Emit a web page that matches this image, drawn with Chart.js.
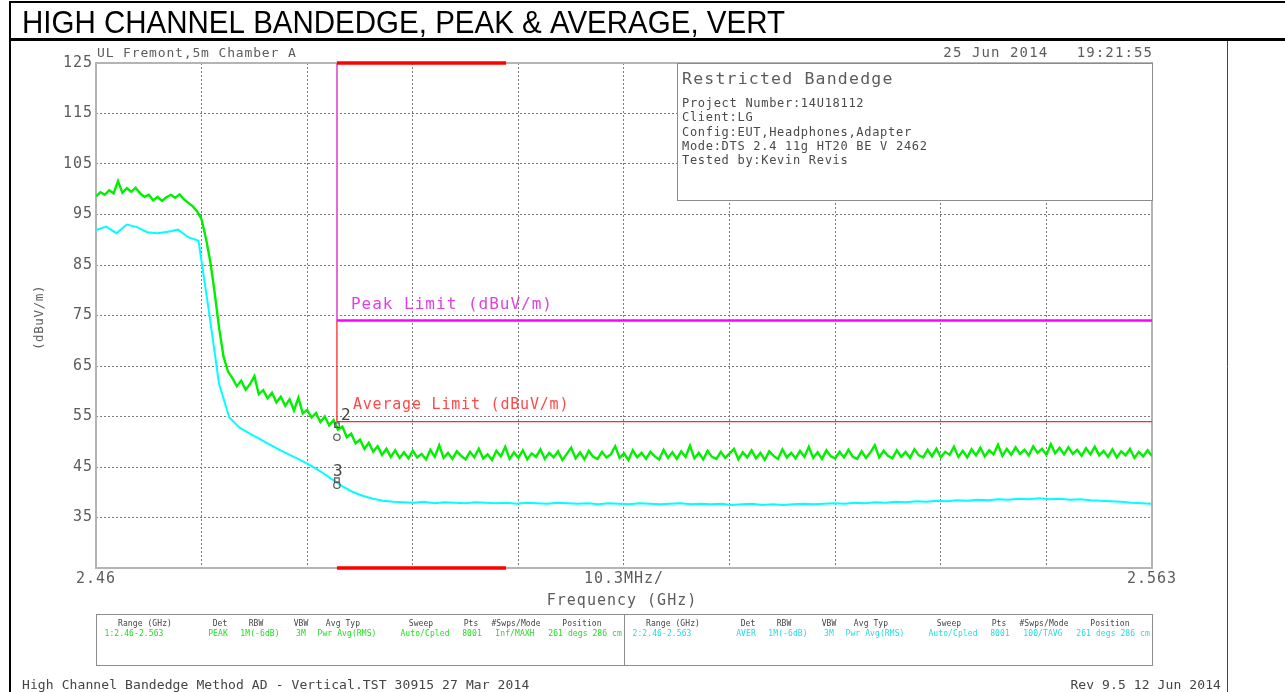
<!DOCTYPE html>
<html><head><meta charset="utf-8">
<script src="https://cdn.jsdelivr.net/npm/chart.js@4.4.1/dist/chart.umd.min.js"></script>
<style>html,body{margin:0;padding:0;background:#fff;overflow:hidden}canvas{display:block}</style>
</head><body>
<canvas id="c" width="1285" height="692"></canvas>
<script>
// ---------------- DATA ----------------
const chartTitle = 'HIGH CHANNEL BANDEDGE, PEAK & AVERAGE, VERT';
const siteLabel = 'UL Fremont,5m Chamber A';
const dateLabel = '25 Jun 2014   19:21:55';
const sweepStartGHz = 2.46;
const sweepStopGHz = 2.563;
const xDivisions = 10;
const xTickLabels = ['2.46','','','','','10.3MHz/','','','','','2.563'];
const xAxisTitle = 'Frequency (GHz)';
const yAxisTitle = '(dBuV/m)';
const yMin = 25, yMax = 125;
const yTickValues = [35,45,55,65,75,85,95,105,115,125];
const restrictedBandGHz = [2.4835, 2.5];
const peakLimit = 74;
const averageLimit = 54;
const peakLimitLabel = 'Peak Limit (dBuV/m)';
const averageLimitLabel = 'Average Limit (dBuV/m)';

// Trace 1: PEAK (MAXH), evenly spaced sweep points from 2.46 to 2.563 GHz
const peakTrace = [
 98.6, 99.4, 98.9, 99.8, 99.2, 101.6, 99.3, 100.2, 99.5, 100.3,
 99.2, 98.5, 98.9, 97.8, 98.5, 97.7, 98.4, 98.9, 98.3, 99.0,
 98.0, 97.3, 96.6, 95.6, 94.0, 90.2, 85.6, 79.3, 72.4, 66.8,
 63.9, 62.6, 61.0, 62.1, 60.3, 61.4, 63.0, 59.4, 60.2, 58.6,
 59.7, 57.8, 58.9, 57.1, 58.4, 56.2, 58.7, 55.6, 56.3, 54.8,
 55.7, 53.9, 55.0, 53.2, 54.3, 52.4, 53.0, 50.9, 51.6, 49.7,
 50.4, 48.6, 49.8, 48.0, 49.1, 47.4, 48.6, 47.0, 48.3, 46.8,
 47.9, 46.7, 48.2, 46.9, 47.6, 46.5, 48.4, 47.0, 49.3, 46.8,
 47.8, 46.6, 48.1, 47.2, 46.5, 48.0, 46.9, 48.6, 46.7, 47.5,
 46.4, 48.2, 47.1, 49.0, 46.6, 47.9, 46.8, 48.3, 46.5, 47.7,
 47.0, 48.5, 46.6, 47.8, 46.9, 48.1, 46.4, 47.6, 48.8, 46.7,
 47.9, 46.5, 48.2, 47.0, 46.6, 48.0, 46.9, 47.5, 49.1, 46.8,
 47.7, 46.4, 48.3, 46.9, 47.8, 46.6, 48.0, 47.1, 46.5, 48.4,
 46.8, 47.9, 46.6, 48.1, 47.0, 49.2, 46.7, 47.8, 46.5, 48.2,
 47.0, 46.6, 48.0, 46.8, 47.7, 48.6, 46.5, 47.9, 46.9, 48.3,
 46.7, 47.8, 46.4, 48.1, 47.2, 46.6, 48.5, 46.9, 47.8, 46.7,
 48.2, 47.0, 49.0, 46.8, 47.9, 46.6, 48.3, 47.1, 46.7, 48.0,
 46.9, 48.4, 47.0, 46.6, 48.1, 46.8, 47.9, 49.3, 46.9, 48.2,
 47.2, 46.7, 48.3, 47.0, 48.0, 46.8, 48.5, 47.3, 46.9, 48.4,
 47.1, 48.6, 46.9, 48.0, 47.4, 49.0, 47.0, 48.2, 46.9, 48.5,
 47.3, 48.8, 47.1, 48.3, 47.5, 49.4, 47.2, 48.6, 47.4, 48.9,
 47.6, 48.4, 47.3, 49.1, 47.8, 48.6, 47.4, 49.5, 47.7, 48.8,
 47.5, 48.9, 47.6, 48.4, 47.2, 48.7, 47.5, 49.0, 47.3, 48.2,
 47.0, 48.5, 46.9, 48.1, 47.3, 48.6, 46.8, 48.0, 47.1, 48.3, 47.2
];

// Trace 2: AVERAGE (TAVG), evenly spaced sweep points from 2.46 to 2.563 GHz
const averageTrace = [
 91.9, 92.6, 91.3, 93.0, 92.5, 91.5, 91.3, 91.6, 92.0, 90.5,
 89.8, 76.0, 61.5, 54.8, 52.8, 51.6, 50.5, 49.4, 48.3, 47.3,
 46.3, 45.2, 44.0, 42.6, 41.2, 40.1, 39.3, 38.7, 38.3, 38.1,
 38.0, 37.9, 38.1, 37.8, 38.0, 37.9, 37.8, 38.0, 37.9, 37.8,
 37.9, 37.7, 37.9, 37.8, 37.7, 37.9, 37.8, 37.7, 37.8, 37.6,
 37.8, 37.7, 37.6, 37.8, 37.7, 37.6, 37.7, 37.8, 37.6, 37.7,
 37.6, 37.7, 37.5, 37.6, 37.7, 37.5, 37.6, 37.5, 37.6, 37.7,
 37.6, 37.7, 37.8, 37.7, 37.9, 37.8, 38.0, 37.9, 38.1, 38.0,
 38.2, 38.1, 38.3, 38.2, 38.4, 38.3, 38.5, 38.4, 38.6, 38.5,
 38.7, 38.6, 38.8, 38.6, 38.7, 38.5, 38.6, 38.4, 38.3, 38.2,
 38.1, 37.9, 37.8, 37.7
];

const markerFreqGHz = [2.4835, 2.4835, 2.4835, 2.4835];
const markerLevels = [50.9, 53.3, 42.4, 41.4];
const markerStyles = ['circle', 'rect', 'rect', 'circle'];
const markerNames = ['', '2', '3', ''];

const infoTitle = 'Restricted Bandedge';
const infoLines = ['Project Number:14U18112', 'Client:LG', 'Config:EUT,Headphones,Adapter', 'Mode:DTS 2.4 11g HT20 BE V 2462', 'Tested by:Kevin Revis'];

const tableHeaders = ['Range (GHz)', 'Det', 'RBW', 'VBW', 'Avg Typ', 'Sweep', 'Pts', '#Swps/Mode', 'Position'];
const trace1Settings = ['1:2.46-2.563', 'PEAK', '1M(-6dB)', '3M', 'Pwr Avg(RMS)', 'Auto/Cpled', '8001', 'Inf/MAXH', '261 degs 286 cm V'];
const trace2Settings = ['2:2.46-2.563', 'AVER', '1M(-6dB)', '3M', 'Pwr Avg(RMS)', 'Auto/Cpled', '8001', '100/TAVG', '261 degs 286 cm V'];

const footerLeft = 'High Channel Bandedge Method AD - Vertical.TST 30915 27 Mar 2014';
const footerRight = 'Rev 9.5 12 Jun 2014';

// ---------------- BUILD ----------------
function sweepPoints(values) {
  const n = values.length;
  return values.map((v, i) => ({ x: sweepStartGHz + i * (sweepStopGHz - sweepStartGHz) / (n - 1), y: v }));
}
const MONO = '"DejaVu Sans Mono", monospace';
const TXT = '#5c5c5c';

function txt(ctx, s, x, y, o) {
  ctx.save();
  ctx.font = (o.size || 12) + 'px ' + (o.family || MONO);
  ctx.letterSpacing = (o.ls || 0) + 'px';
  ctx.fillStyle = o.color || TXT;
  ctx.textAlign = o.align || 'left';
  ctx.textBaseline = o.baseline || 'alphabetic';
  if (o.sx) { ctx.translate(x, y); ctx.scale(o.sx, 1); ctx.fillText(s, 0, 0); }
  else ctx.fillText(s, x, y);
  ctx.restore();
}
function line(ctx, x1, y1, x2, y2, color, w) {
  ctx.save(); ctx.strokeStyle = color; ctx.lineWidth = w;
  ctx.beginPath(); ctx.moveTo(x1, y1); ctx.lineTo(x2, y2); ctx.stroke(); ctx.restore();
}

const decor = {
  id: 'decor',
  beforeDraw(chart) {
    const ctx = chart.ctx;
    ctx.save();
    ctx.fillStyle = '#fff';
    ctx.fillRect(0, 0, chart.width, chart.height);
    ctx.restore();
    ctx.letterSpacing = '1px';
  },
  beforeDatasetsDraw(chart) {
    const ctx = chart.ctx, a = chart.chartArea;
    ctx.save();
    ctx.strokeStyle = '#b4b4b4';
    ctx.lineWidth = 2;
    ctx.strokeRect(a.left, a.top, a.right - a.left, a.bottom - a.top);
    ctx.restore();
  },
  afterDraw(chart) {
    const ctx = chart.ctx, a = chart.chartArea;
    const xs = chart.scales.x, ys = chart.scales.y;
    // page frame
    line(ctx, 10, 2, 1285, 2, '#000', 2);
    line(ctx, 10, 1, 10, 692, '#000', 2);
    line(ctx, 10, 39.5, 1285, 39.5, '#000', 3);
    line(ctx, 1227.5, 41, 1227.5, 692, '#444', 1);
    txt(ctx, chartTitle, 22, 33, { family: '"Liberation Sans", Arial, sans-serif', size: 32, color: '#000', sx: 0.922 });

    txt(ctx, siteLabel, 97, 57, { size: 13, ls: 0.85 });
    txt(ctx, dateLabel, a.right + 1, 57, { size: 14, ls: 1.1, align: 'right' });

    // axis titles
    txt(ctx, xAxisTitle, (a.left + a.right) / 2 - 2, 605, { size: 15, ls: 1.0, align: 'center' });
    ctx.save();
    ctx.translate(43, (a.top + a.bottom) / 2 + 2);
    ctx.rotate(-Math.PI / 2);
    txt(ctx, yAxisTitle, 0, 0, { size: 12.5, ls: 0.6, align: 'center' });
    ctx.restore();

    // limit labels
    const xr = xs.getPixelForValue(restrictedBandGHz[0]);
    txt(ctx, peakLimitLabel, xr + 14, ys.getPixelForValue(peakLimit) - 12, { size: 16, ls: 1.0, color: '#e040e0' });
    txt(ctx, averageLimitLabel, xr + 16, ys.getPixelForValue(averageLimit) - 13, { size: 15, ls: 0.8, color: '#ff4848' });

    // marker labels
    const mOff = [[0, 0], [4, -5], [-4, -4], [0, 0]];
    markerNames.forEach((n, i) => {
      if (!n) return;
      const px = xs.getPixelForValue(markerFreqGHz[i]), py = ys.getPixelForValue(markerLevels[i]);
      txt(ctx, n, px + mOff[i][0], py + mOff[i][1], { size: 16, ls: 0, color: '#444' });
    });

    // info box
    const bx = 677, by = a.top, bw = a.right - 677, bh = 137;
    ctx.save();
    ctx.fillStyle = '#fff';
    ctx.fillRect(bx, by, bw, bh);
    ctx.strokeStyle = '#8c8c8c'; ctx.lineWidth = 1;
    ctx.strokeRect(bx + 0.5, by + 0.5, bw, bh);
    ctx.restore();
    txt(ctx, infoTitle, 682, 84, { size: 16.5, ls: 1.2 });
    infoLines.forEach((s, i) => txt(ctx, s, 682, 107 + i * 14.3, { size: 12, ls: 0.7, color: '#4a4a4a' }));

    // settings table
    ctx.save();
    ctx.strokeStyle = '#8c8c8c'; ctx.lineWidth = 1;
    ctx.strokeRect(96.5, 614.5, 1056, 51);
    line(ctx, 624.5, 615, 624.5, 665, '#8c8c8c', 1);
    ctx.restore();
    const hdrX = [145, 220, 256, 301, 343, 421, 471, 516, 582];
    const valX = [134, 218, 260, 301, 347, 425, 472, 515, 590];
    [[trace1Settings, 96, '#22e022'], [trace2Settings, 624, '#20dede']].forEach(([vals, x0, col]) => {
      ctx.save();
      ctx.beginPath(); ctx.rect(x0 + 1, 615, 527, 50); ctx.clip();
      tableHeaders.forEach((h, k) => txt(ctx, h, hdrX[k] + x0 - 96, 626, { size: 8, ls: 0.1, color: '#444', align: 'center' }));
      vals.forEach((v, k) => txt(ctx, v, valX[k] + x0 - 96, 636, { size: 8, ls: 0.1, color: col, align: 'center' }));
      ctx.restore();
    });

    // footer
    txt(ctx, footerLeft, 22, 689, { size: 13, ls: 0.1, color: '#444' });
    txt(ctx, footerRight, 1221, 689, { size: 13, ls: 0.1, color: '#444', align: 'right' });
  }
};

const rb0 = restrictedBandGHz[0];
new Chart(document.getElementById('c'), {
  type: 'line',
  data: {
    datasets: [
      { label: 'Markers', data: markerFreqGHz.map((f, i) => ({ x: f, y: markerLevels[i] })), showLine: false,
        pointStyle: markerStyles, pointRadius: 3.2, pointBorderColor: '#555', pointBackgroundColor: 'rgba(0,0,0,0)', pointBorderWidth: 1.2, order: 0 },
      { label: 'Restricted band top', data: restrictedBandGHz.map(f => ({ x: f, y: yMax })), borderColor: '#ff0000', borderWidth: 3.5, pointRadius: 0, clip: false, order: 1 },
      { label: 'Restricted band bottom', data: restrictedBandGHz.map(f => ({ x: f, y: yMin })), borderColor: '#ff0000', borderWidth: 3.5, pointRadius: 0, clip: false, order: 1 },
      { label: 'Peak', data: sweepPoints(peakTrace), borderColor: '#00f000', borderWidth: 2.4, pointRadius: 0, order: 2 },
      { label: 'Average', data: sweepPoints(averageTrace), borderColor: '#00ffff', borderWidth: 2, pointRadius: 0, order: 3 },
      { label: 'Peak Limit', data: [{ x: rb0, y: yMax }, { x: rb0, y: peakLimit }, { x: sweepStopGHz, y: peakLimit }],
        borderColor: '#ff00ff', borderWidth: 2.5, pointRadius: 0, order: 4, clip: false,
        segment: { borderWidth: c => c.p0DataIndex === 0 ? 1 : 2.5, borderColor: c => c.p0DataIndex === 0 ? '#e070e0' : '#ff00ff' } },
      { label: 'Average Limit', data: [{ x: rb0, y: yMax }, { x: rb0, y: averageLimit }, { x: sweepStopGHz, y: averageLimit }],
        borderColor: '#ff2a2a', borderWidth: 1.3, pointRadius: 0, order: 5 }
    ]
  },
  options: {
    responsive: false,
    animation: false,
    devicePixelRatio: 1,
    layout: { padding: { top: 63, right: 133, left: 0, bottom: 0 } },
    plugins: { legend: { display: false }, tooltip: { enabled: false } },
    scales: {
      x: {
        type: 'linear', min: sweepStartGHz, max: sweepStopGHz,
        afterBuildTicks: s => { s.ticks = xTickLabels.map((_, k) => ({ value: sweepStartGHz + k * (sweepStopGHz - sweepStartGHz) / xDivisions })); },
        afterFit: s => { s.height = 124; },
        ticks: { autoSkip: false, maxRotation: 0, padding: 2, color: TXT, font: { family: 'DejaVu Sans Mono', size: 15 },
          callback: (v, i) => xTickLabels[i] },
        grid: { drawTicks: false, color: c => (c.index === 0 || c.index === xDivisions) ? 'rgba(0,0,0,0)' : '#7a7a7a', lineWidth: 1 },
        border: { display: false, dash: [2, 2] }
      },
      y: {
        type: 'linear', min: yMin, max: yMax,
        afterBuildTicks: s => { s.ticks = yTickValues.map(v => ({ value: v })); },
        afterFit: s => { s.width = 96; },
        ticks: { padding: 3, color: TXT, font: { family: 'DejaVu Sans Mono', size: 15 }, callback: v => String(v) },
        grid: { drawTicks: false, color: c => (c.tick && c.tick.value === yMax) ? 'rgba(0,0,0,0)' : '#7a7a7a', lineWidth: 1 },
        border: { display: false, dash: [2, 2] }
      }
    }
  },
  plugins: [decor]
});
</script>
</body></html>
